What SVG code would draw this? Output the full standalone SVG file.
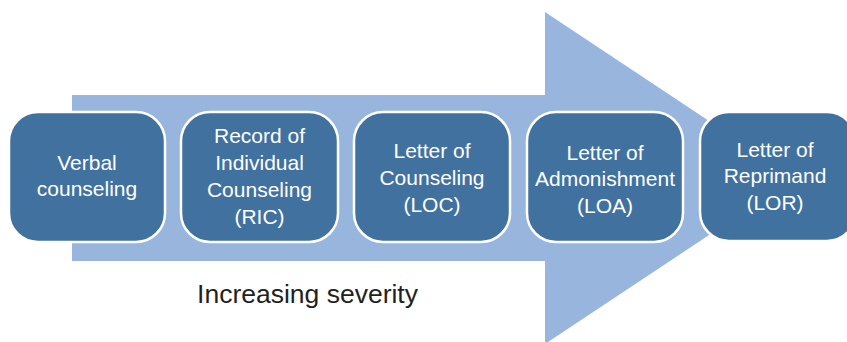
<svg xmlns="http://www.w3.org/2000/svg" width="847" height="342" viewBox="0 0 847 342">
<style>
.box{fill:#41719f;stroke:#ffffff;stroke-width:2.5}
.t{font-family:"Liberation Sans",Arial,sans-serif;font-size:21px;fill:#ffffff;text-anchor:middle}
.lbl{font-family:"Liberation Sans",Arial,sans-serif;font-size:26.5px;fill:#231f20;text-anchor:middle}
</style>
<rect width="847" height="342" fill="#ffffff"/>
<g id="connectors">
<polygon points="72,95 545,95 545,12 795,178 545,344 545,261 72,261" fill="#98b6dd"/>
</g>
<g id="n1">
<rect class="box" x="9" y="112" width="156" height="130" rx="29"/>
<text class="t" x="87" y="170">Verbal</text>
<text class="t" x="87" y="196">counseling</text>
</g>
<g id="n2">
<rect class="box" x="181" y="112" width="157" height="130" rx="29"/>
<text class="t" x="259.5" y="143">Record of</text>
<text class="t" x="259.5" y="170">Individual</text>
<text class="t" x="259.5" y="197">Counseling</text>
<text class="t" x="259.5" y="224">(RIC)</text>
</g>
<g id="n3">
<rect class="box" x="354" y="112" width="156" height="130" rx="29"/>
<text class="t" x="432" y="158">Letter of</text>
<text class="t" x="432" y="185">Counseling</text>
<text class="t" x="432" y="212">(LOC)</text>
</g>
<g id="n4">
<rect class="box" x="527" y="112" width="156" height="130" rx="29"/>
<text class="t" x="605" y="160">Letter of</text>
<text class="t" x="605" y="186">Admonishment</text>
<text class="t" x="605" y="213">(LOA)</text>
</g>
<g id="n5">
<rect class="box" x="700" y="112" width="156" height="129" rx="29"/>
<text class="t" x="775" y="157">Letter of</text>
<text class="t" x="775" y="183">Reprimand</text>
<text class="t" x="775" y="210">(LOR)</text>
</g>
<text class="lbl" x="307.5" y="303">Increasing severity</text>
</svg>
